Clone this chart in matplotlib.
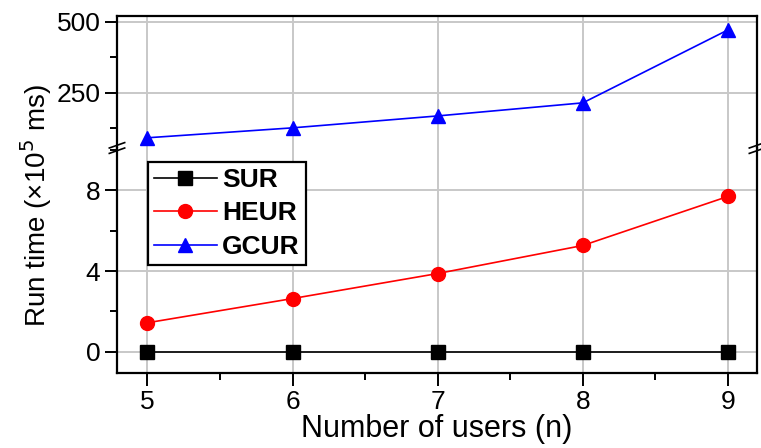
import matplotlib.pyplot as plt
from matplotlib.ticker import MultipleLocator

plt.rcParams['font.family'] = ['Liberation Sans', 'DejaVu Sans']

users = [5, 6, 7, 8, 9]
sur = [0.0, 0.0, 0.0, 0.0, 0.0]
heur = [1.44, 2.64, 3.88, 5.27, 7.7]
gcur = [92, 127, 169, 215, 472]

fig = plt.figure(figsize=(7.61, 4.48), dpi=100)
left, right = 117 / 761, 757 / 761
bottom, brk, top = 1 - 373 / 448, 1 - 148 / 448, 1 - 16 / 448
ax_top = fig.add_axes([left, brk, right - left, top - brk])
ax_bot = fig.add_axes([left, bottom, right - left, brk - bottom], sharex=ax_top)

styles = dict(lw=1.2, ms=10, clip_on=False, zorder=5)
for ax in (ax_top, ax_bot):
    ax.plot(users, sur, color='black', marker='s', label='SUR', **styles)
    ax.plot(users, heur, color='red', marker='o', label='HEUR', **styles)
    ax.plot(users, gcur, color='blue', marker='^', label='GCUR', **styles)
    ax.grid(True, color='#c8c8c8', lw=1.4)
    ax.set_axisbelow(True)
    for s in ax.spines.values():
        s.set_linewidth(1.6)
    ax.tick_params(which='both', direction='out', width=1.4, labelsize=19,
                   right=False, top=False)
    ax.tick_params(which='major', length=9)
    ax.tick_params(which='minor', length=5)
    ax.tick_params(axis='y', pad=3)
    ax.tick_params(axis='x', pad=3)

ax_top.set_ylim(56, 521)
ax_top.yaxis.set_major_locator(MultipleLocator(250))
ax_top.yaxis.set_minor_locator(MultipleLocator(125))
ax_top.spines['bottom'].set_visible(False)
ax_top.tick_params(axis='x', which='both', bottom=False, labelbottom=False)

ax_bot.set_ylim(-1.05, 10.1)
ax_bot.yaxis.set_major_locator(MultipleLocator(4))
ax_bot.yaxis.set_minor_locator(MultipleLocator(2))
ax_bot.spines['top'].set_visible(False)

ax_bot.set_xlim(4.79, 9.2)
ax_bot.xaxis.set_major_locator(MultipleLocator(1))
ax_bot.xaxis.set_minor_locator(MultipleLocator(0.5))
ax_bot.set_xlabel('Number of users (n)', fontsize=22, labelpad=0)

fig.text(0.047, 0.54, 'Run time (×10$^5$ ms)', rotation=90, fontsize=20,
         ha='center', va='center')

# break marks on both vertical spines
for xb in (0.0, 1.0):
    for dy in (-0.012, 0.012):
        ax_bot.plot([xb - 0.012, xb + 0.012], [1 + dy - 0.012, 1 + dy + 0.012],
                    transform=ax_bot.transAxes, color='black', lw=1.2,
                    clip_on=False, zorder=10)

leg = ax_bot.legend(loc='upper left', bbox_to_anchor=(0.048, 0.938),
                    borderaxespad=0, fancybox=False, framealpha=1,
                    edgecolor='black', prop={'weight': 'bold', 'size': 19},
                    handlelength=2.4, handletextpad=0.2, labelspacing=0.36,
                    borderpad=0.22)
leg.get_frame().set_linewidth(1.6)

fig.savefig('out.png', dpi=100)
